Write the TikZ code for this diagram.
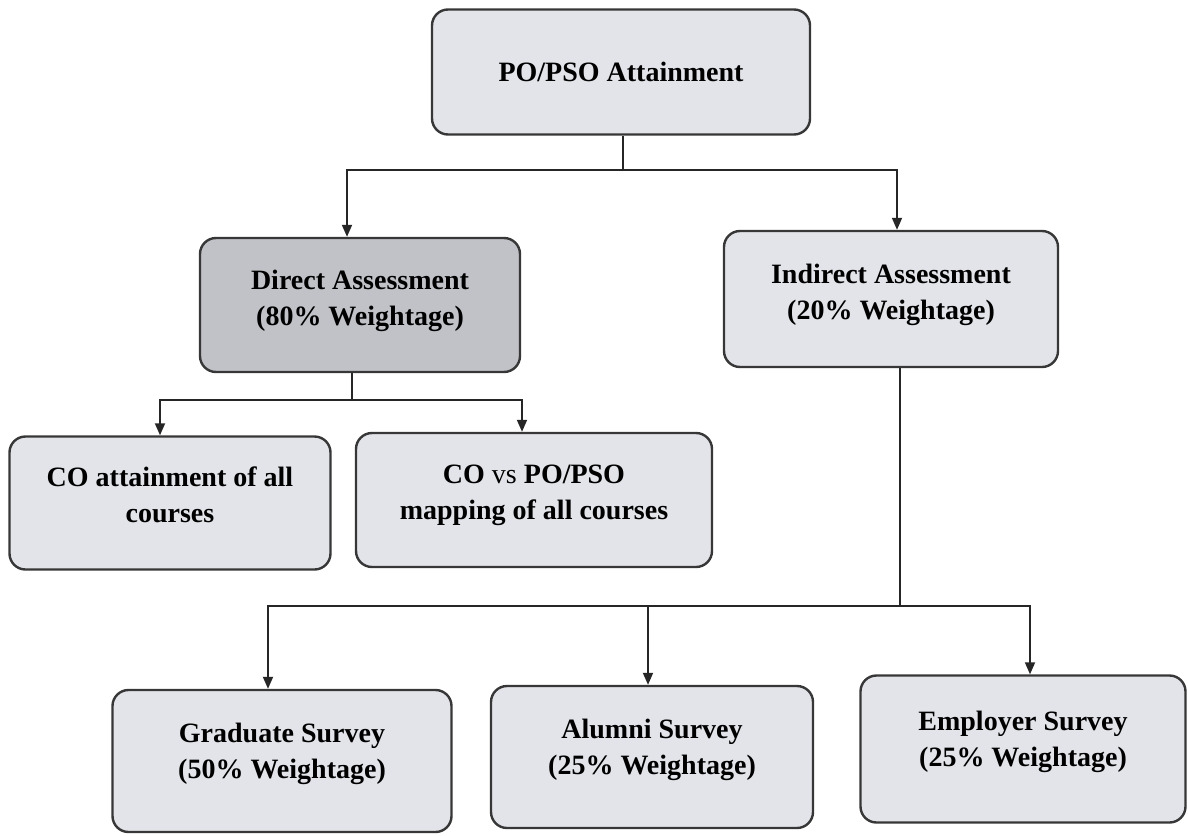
\documentclass[tikz,border=0pt]{standalone}
\usepackage{fontspec}
\setmainfont{Liberation Serif}
\usepackage{tikz}
\usetikzlibrary{arrows.meta}

\definecolor{boxfill}{RGB}{226,228,233}
\definecolor{boxdark}{RGB}{192,194,200}
\definecolor{boxline}{RGB}{55,55,55}

\tikzset{
  stage/.style={draw=boxline, line width=1.2pt, rounded corners=8pt, fill=boxfill,
    align=center, inner sep=0pt, font=\fontsize{14}{18}\selectfont\bfseries},
  link/.style={line width=0.9pt, draw=black!85},
  flow/.style={link, -{Triangle[width=5pt,length=6pt]}}
}

\begin{document}
\begin{tikzpicture}[x=0.5pt,y=-0.5pt]
        \useasboundingbox (0,0) rectangle (1188,835);

        % Top level
        \node[stage, minimum width=189pt, minimum height=62.5pt] (top) at (621,72) {PO/PSO Attainment};

        % Second level
        \node[stage, fill=boxdark, minimum width=160pt, minimum height=67pt] (direct) at (360,305) {Direct Assessment\\(80\% Weightage)\\[-11pt]};
        \node[stage, minimum width=167pt, minimum height=68pt] (indirect) at (891,299) {Indirect Assessment\\(20\% Weightage)\\[-11pt]};

        % Direct assessment parts
        \node[stage, minimum width=160.5pt, minimum height=66.5pt] (coatt) at (170,503) {CO attainment of all\\courses\\[-10pt]};
        \node[stage, minimum width=178pt, minimum height=67pt] (comap) at (534,500) {CO \textmd{vs} PO/PSO\\mapping of all courses\\[-10pt]};

        % Surveys
        \node[stage, minimum width=169.5pt, minimum height=71pt] (grad) at (282,761) {Graduate Survey\\(50\% Weightage)\\[-8pt]};
        \node[stage, minimum width=161pt, minimum height=71pt] (alumni) at (652,757) {Alumni Survey\\(25\% Weightage)\\[-8pt]};
        \node[stage, minimum width=162.5pt, minimum height=73.5pt] (employer) at (1023,749) {Employer Survey\\(25\% Weightage)\\[-8pt]};

        % Connectors
        \coordinate (split1) at (623,170);
        \coordinate (split2) at (352,400);
        \coordinate (split3) at (900,606);

        \draw[link] ([xshift=1pt]top.south) -- (split1);
        \draw[flow] (split1) -| ([xshift=-6.5pt]direct.north);
        \draw[flow] (split1) -| ([xshift=3pt]indirect.north);

        \draw[link] ([xshift=-4pt]direct.south) -- (split2);
        \draw[flow] (split2) -| ([xshift=-5pt]coatt.north);
        \draw[flow] (split2) -| ([xshift=-6pt]comap.north);

        \draw[link] ([xshift=4.5pt]indirect.south) -- (split3);
        \draw[flow] (split3) -| ([xshift=-7pt]grad.north);
        \draw[flow] (split3) -| ([xshift=-2pt]alumni.north);
        \draw[flow] (split3) -| ([xshift=3.5pt]employer.north);

    \end{tikzpicture}
\end{document}
